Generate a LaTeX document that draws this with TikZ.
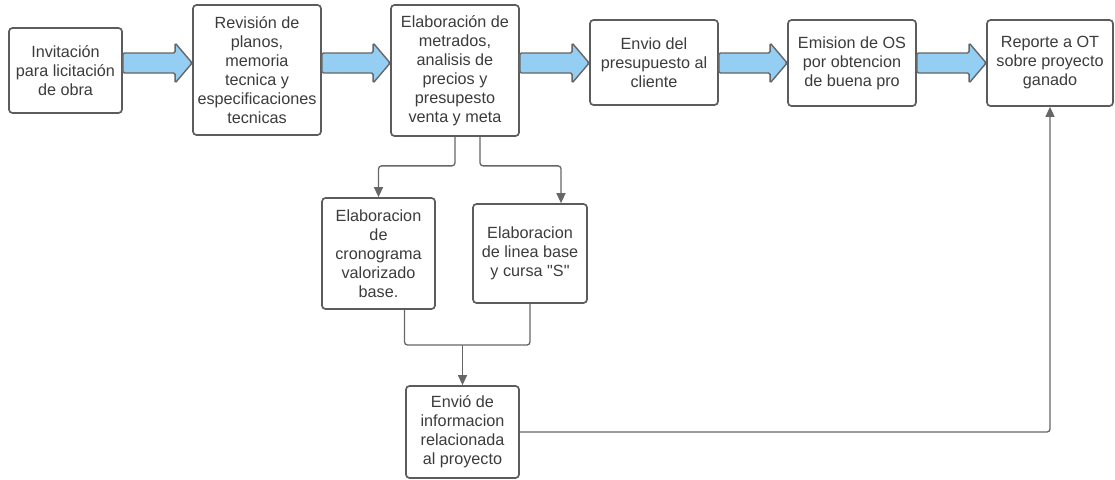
\documentclass[tikz,border=0pt]{standalone}
\usepackage{fontspec}
\setmainfont{Liberation Sans}
\usepackage{xcolor}
\usetikzlibrary{calc,arrows.meta}
\definecolor{boxline}{HTML}{5C5C5C}
\definecolor{txtgrey}{HTML}{3C3C3C}
\definecolor{linkgrey}{HTML}{666666}
\definecolor{arrowblue}{HTML}{94CEF2}
\newcommand{\fatarrow}[2]{%
\draw[fatarrow] let \p1=(#1.east |- arrowline), \p2=(#2.west |- arrowline) in
  (\x1,\y1+10) -- (\x2-17,\y1+10) -- (\x2-17,\y1+20) -- (\x2,\y1)
  -- (\x2-17,\y1-20) -- (\x2-17,\y1-10) -- (\x1,\y1-10) -- cycle;}
\begin{document}
\begin{tikzpicture}[x=1pt,y=-1pt,
  stepbox/.style={draw=boxline,line width=1.7pt,rounded corners=3.5pt,fill=white,
    text=txtgrey,align=center,inner sep=0pt,font=\fontsize{16.2}{19}\selectfont},
  fatarrow/.style={draw=linkgrey,line width=1.4pt,fill=arrowblue,rounded corners=1.5pt},
  link/.style={draw=linkgrey,line width=1.3pt,rounded corners=3pt},
  linkarrow/.style={link,-{Triangle[length=10pt,width=9pt]}}]
\useasboundingbox (0,0) rectangle (1115,479);
\coordinate (arrowline) at (0,63);
\node[stepbox,minimum width=113pt,minimum height=85pt] (invitacion) at (65.5,70.5) {Invitación\\para licitación\\de obra};
\node[stepbox,minimum width=128pt,minimum height=130pt] (revision) at (257,70) {Revisión de\\planos,\\memoria\\tecnica y\\especificaciones\\tecnicas};
\node[stepbox,minimum width=128pt,minimum height=131pt] (metrados) at (455,70.5) {Elaboración de\\metrados,\\analisis de\\precios y\\presupesto\\venta y meta};
\node[stepbox,minimum width=128pt,minimum height=85pt] (envio) at (654,62.5) {Envio del\\presupuesto al\\cliente};
\node[stepbox,minimum width=128pt,minimum height=86pt] (emision) at (852,63) {Emision de OS\\por obtencion\\de buena pro};
\node[stepbox,minimum width=126pt,minimum height=86pt] (reporte) at (1050,63) {Reporte a OT\\sobre proyecto\\ganado};
\node[stepbox,minimum width=113pt,minimum height=111pt] (cronograma) at (378.5,253.5) {Elaboracion\\de\\cronograma\\valorizado\\base.};
\node[stepbox,minimum width=114pt,minimum height=99pt] (lineabase) at (530,253.5) {Elaboracion\\de linea base\\y cursa \textquotedbl S\textquotedbl};
\node[stepbox,minimum width=113pt,minimum height=92pt] (informacion) at (462.5,432) {Envió de\\informacion\\relacionada\\al proyecto};
\coordinate (merge) at (462.5,345);
\fatarrow{invitacion}{revision}
\fatarrow{revision}{metrados}
\fatarrow{metrados}{envio}
\fatarrow{envio}{emision}
\fatarrow{emision}{reporte}
\draw[linkarrow] (metrados.south) -- ++(0,29) -| (cronograma.north);
\draw[linkarrow] ([xshift=25pt]metrados.south) -- ++(0,29) -| ([xshift=31pt]lineabase.north);
\draw[link] ([xshift=26pt]cronograma.south) |- (merge);
\draw[link] (lineabase.south) |- (merge);
\draw[linkarrow] (merge) -- (informacion.north);
\draw[linkarrow] (informacion.east) -| (reporte.south);
\end{tikzpicture}
\end{document}
